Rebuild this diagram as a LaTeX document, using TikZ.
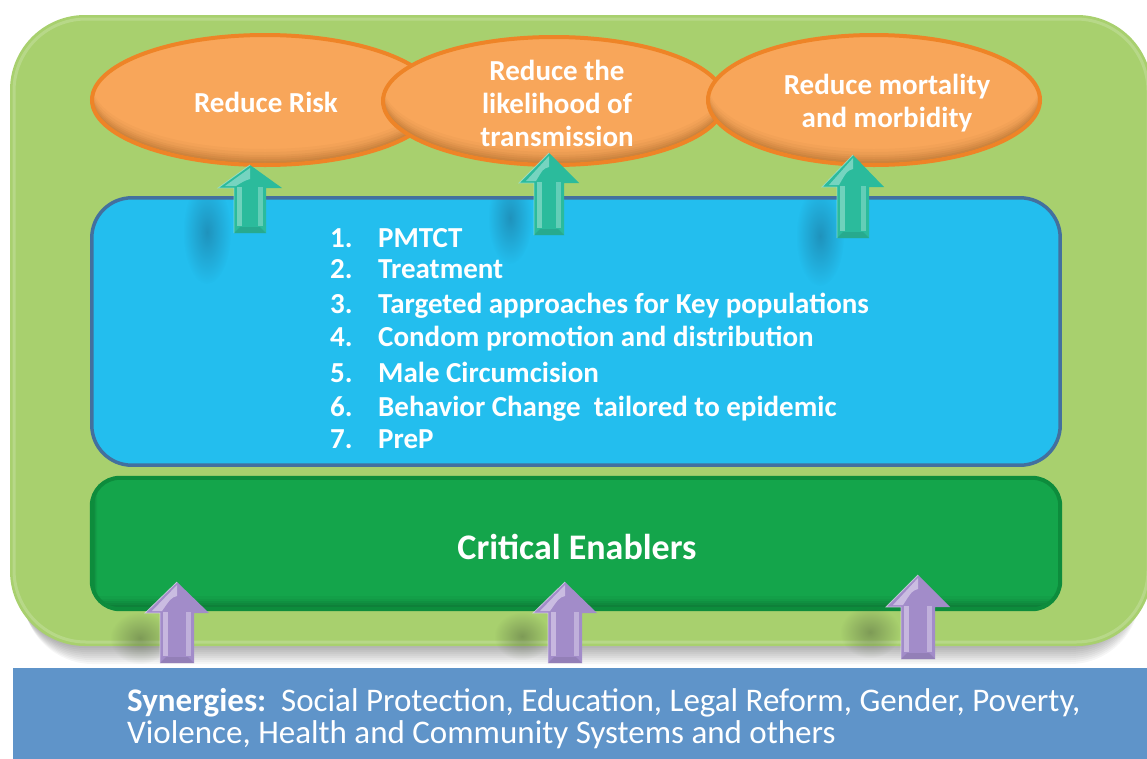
\documentclass[tikz,border=0pt]{standalone}
\usepackage{fontspec}
\setmainfont{Carlito}
\usetikzlibrary{shapes.geometric,fadings}

\definecolor{leaf}{HTML}{A8D06E}
\definecolor{sky}{HTML}{23BEEE}
\definecolor{slate}{HTML}{43709E}
\definecolor{grass}{HTML}{14A54B}
\definecolor{grassedge}{HTML}{0D8C3C}
\definecolor{peach}{HTML}{F8A65A}
\definecolor{amber}{HTML}{EE8427}
\definecolor{peachshade}{HTML}{7A4410}
\definecolor{tealbody}{HTML}{2BBB9C}
\definecolor{tealhi}{HTML}{A8E6D8}
\definecolor{lilac}{HTML}{A28CC9}
\definecolor{lilachi}{HTML}{E6DCF2}
\definecolor{steel}{HTML}{5F94C9}
\definecolor{deepblue}{HTML}{1A5E80}
\definecolor{deepgreen}{HTML}{4A5A3A}

\tikzfading[name=softspot, inner color=transparent!55, outer color=transparent!100]

\tikzset{
  goal/.style={ellipse, fill=peach, inner sep=0pt},
  goaltext/.style={text=white, font=\bfseries\fontsize{29}{33}\selectfont, align=center},
  itemtext/.style={text=white, font=\bfseries\fontsize{29}{33}\selectfont, anchor=base west, inner sep=0pt},
  synergytext/.style={text=white, font=\fontsize{33}{36}\selectfont, anchor=base west, inner sep=0pt},
}

% ellipse with a soft shade along its lower inner rim
% #1 name, #2 cx, #3 cy, #4 x radius, #5 y radius
\newcommand\goalshape[5]{%
  \node[goal, minimum width={2*#4}, minimum height={2*#5}] (#1) at (#2,#3) {};
  \begin{scope}
    \clip (#2,#3) ellipse [x radius=#4, y radius=#5];
    \foreach \d/\o in {2/0.10,4/0.09,6/0.08,8/0.07,10/0.06,13/0.05,16/0.04}
      \fill[peachshade, opacity=\o, even odd rule]
        ({#2-#4-5},{#3-#5-5}) rectangle ({#2+#4+5},{#3+#5+5})
        (#2,{#3-\d}) ellipse [x radius=#4, y radius=#5];
  \end{scope}
  \draw[amber, line width=4pt] (#1.center) ellipse [x radius=#4, y radius=#5];
}

% bevelled block arrow pointing up
% #1 cx, #2 tip y, #3 head base y, #4 bottom y, #5 half head, #6 half shaft,
% #7 body colour, #8 highlight colour
\newcommand\bevelarrow[8]{%
  \fill[#7] (#1,#2) -- ({#1+#5},#3) -- ({#1+#6},#3) -- ({#1+#6},#4)
    -- ({#1-#6},#4) -- ({#1-#6},#3) -- ({#1-#5},#3) -- cycle;
  \fill[#8, opacity=.55] ({#1-#6+3},{#3-1}) rectangle ({#1-#6+8},{#4-7});
  \fill[#8, opacity=.45] ({#1+#6-8},{#3-1}) rectangle ({#1+#6-3},{#4-7});
  \fill[#7!75!black, opacity=.35] ({#1-#6},#4) -- ({#1-#6+6},{#4-6})
    -- ({#1+#6-6},{#4-6}) -- ({#1+#6},#4) -- cycle;
  \fill[#8, opacity=.6] (#1,{#2+3}) -- (#1,{#2+14})
    .. controls ({#1-6},{#2+16}) .. ({#1-#6+2},{#3-2}) -- ({#1-#5+7},{#3-2}) -- cycle;
  \draw[#8, opacity=.7, line width=.8pt] ({#1-#6},#4) -- ({#1-#6},#3) -- ({#1-#5},#3) -- (#1,#2);
}

\begin{document}
\begin{tikzpicture}[x=1pt,y=-1pt]
\useasboundingbox (0,0) rectangle (1147,758);
\fill[white] (0,0) rectangle (1147,758);

% soft drop shadow below the outer panel
\foreach \k in {1,...,9}
  \fill[black, opacity=0.035, rounded corners=70pt] ({14+\k},{400}) rectangle (1140,{646+2*\k});

% outer panel
\node[fill=leaf, rounded corners=75pt, minimum width=1142pt, minimum height=631pt, inner sep=0pt]
  (frame) at (581,330.5) {};
\draw[white, opacity=.18, line width=3pt, rounded corners=72pt] (14,19) rectangle (1148,642);

% intervention box
\node[fill=sky, rounded corners=40pt, minimum width=968pt, minimum height=267pt, inner sep=0pt]
  (methods) at (576,331.5) {};
\begin{scope}
  \clip[rounded corners=40pt] (92,198) rectangle (1060,465);
  \fill[deepblue, path fading=softspot] (207,232) ellipse [x radius=24, y radius=52];
  \fill[deepblue, path fading=softspot] (510,218) ellipse [x radius=22, y radius=46];
  \fill[deepblue, path fading=softspot] (820,236) ellipse [x radius=24, y radius=50];
\end{scope}
\draw[slate, line width=3.5pt, rounded corners=40pt] (methods.north west) rectangle (methods.south east);

% enablers box
\node[fill=grass, rounded corners=28pt, minimum width=968pt, minimum height=131pt, inner sep=0pt]
  (enablers) at (576,543.5) {};
\begin{scope}
  \clip[rounded corners=28pt] (92,478) rectangle (1060,609);
  \foreach \d/\o in {2/0.07,4/0.06,6/0.05,8/0.05,10/0.04,13/0.03}
    \fill[black, opacity=\o, even odd rule] (80,470) rectangle (1070,620)
      ({92+0.4*\d},{478-\d}) rectangle ({1060},{609-\d});
\end{scope}
\draw[grassedge, line width=4pt, rounded corners=28pt] (enablers.north west) rectangle (enablers.south east);
\node[text=white, font=\bfseries\fontsize{36}{40}\selectfont] (enablerlabel) at (577,547) {Critical Enablers};

% shadows cast by the lower arrows
\fill[deepgreen, path fading=softspot] (140,638) ellipse [x radius=30, y radius=26];
\fill[deepgreen, path fading=softspot] (522,636) ellipse [x radius=28, y radius=24];
\fill[deepgreen, path fading=softspot] (870,632) ellipse [x radius=30, y radius=26];

% outcome ellipses
\goalshape{goalA}{265}{100}{173}{65}
\goalshape{goalB}{554}{101}{171}{64}
\goalshape{goalC}{874}{100}{166}{65}
\node[goaltext] (goalAtext) at (266,102) {Reduce Risk};
\node[goaltext] (goalBtext) at (557,103) {Reduce the\\likelihood of\\transmission};
\node[goaltext] (goalCtext) at (887,103) {Reduce mortality\\and morbidity};

% arrows from interventions to outcomes
\bevelarrow{250}{165}{188}{233}{32}{16}{tealbody}{tealhi}
\bevelarrow{549}{153}{183}{235}{30}{15}{tealbody}{tealhi}
\bevelarrow{853}{155}{187}{238}{31}{16}{tealbody}{tealhi}

% intervention list
\foreach \n/\t/\y in {1./PMTCT/247, 2./Treatment/278,
    3./Targeted approaches for Key populations/313,
    4./Condom promotion and distribution/346,
    5./Male Circumcision/382,
    6./Behavior Change\ \ tailored to epidemic/416,
    7./PreP/448}{
  \node[itemtext] at (330,\y) {\n};
  \node[itemtext] at (378,\y) {\t};
}

% synergies bar
\node[fill=steel, minimum width=1140pt, minimum height=92pt, inner sep=0pt] (synergies) at (583,714) {};

% arrows from synergies to enablers
\bevelarrow{177}{582}{613}{663}{32}{17}{lilac}{lilachi}
\bevelarrow{565}{582}{613}{663}{32}{17}{lilac}{lilachi}
\bevelarrow{918}{575}{607}{659}{32}{17}{lilac}{lilachi}

\node[synergytext] (synA) at (127,711)
  {\textbf{Synergies:}\ \ Social Protection, Education, Legal Reform, Gender, Poverty,};
\node[synergytext] (synB) at (127,743)
  {Violence, Health and Community Systems and others};
\end{tikzpicture}
\end{document}
